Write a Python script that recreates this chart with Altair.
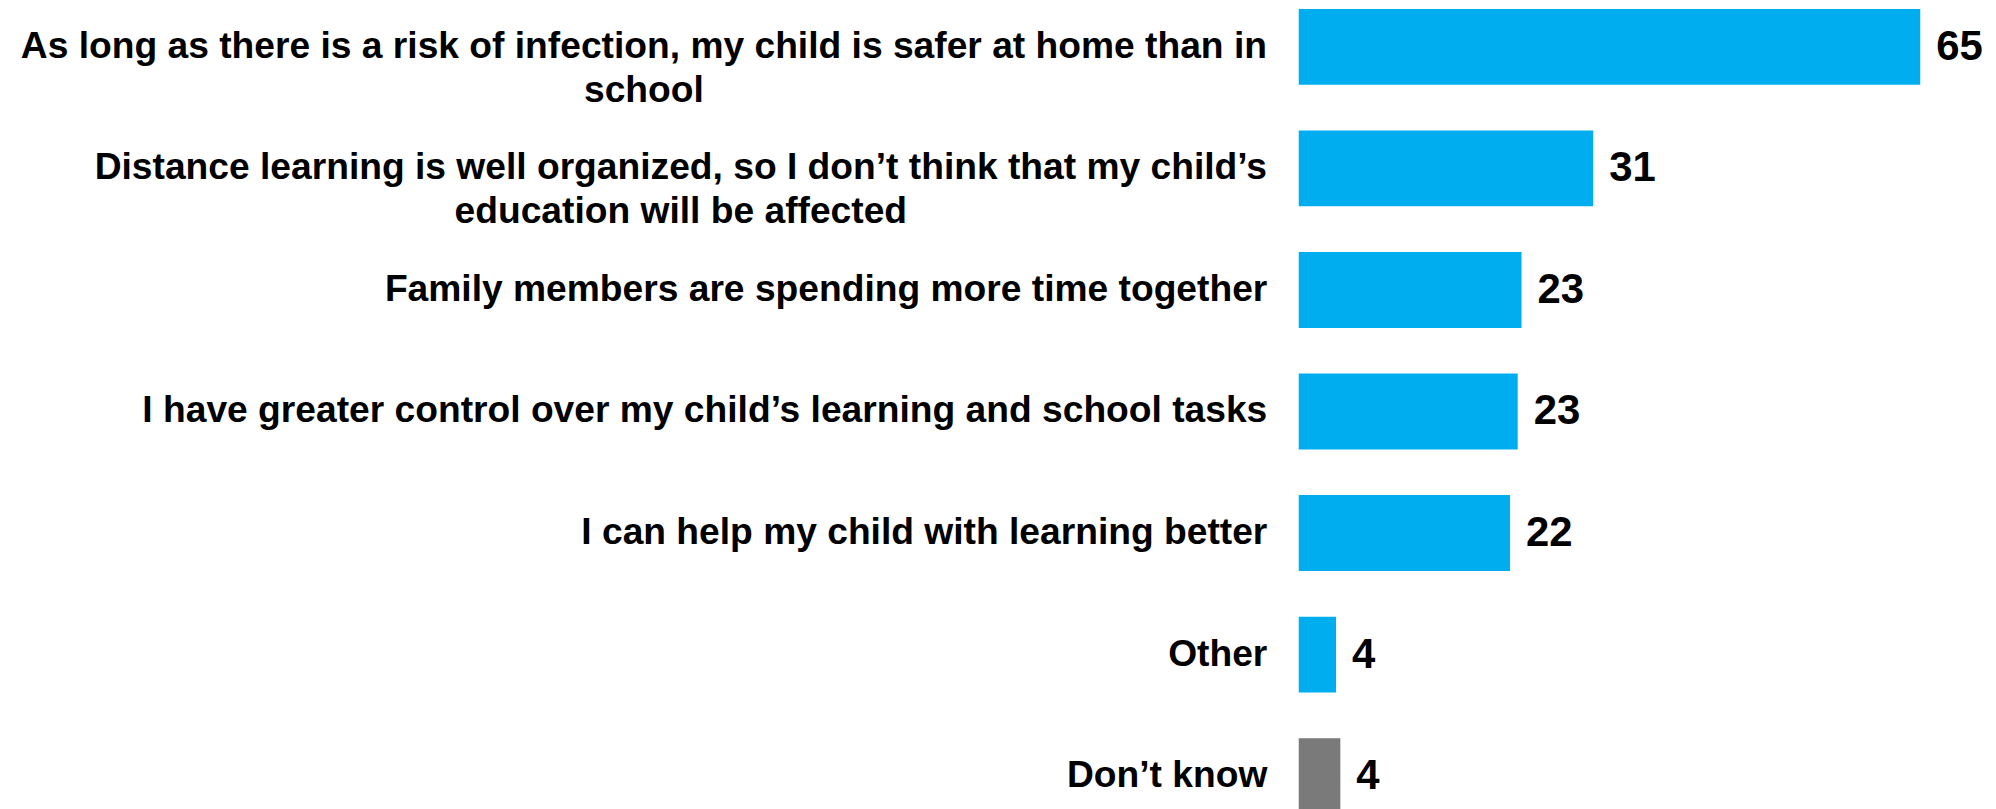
import altair as alt
import pandas as pd

categories = [
    ["As long as there is a risk of infection, my child is safer at home than in", "school"],
    ["Distance learning is well organized, so I don\u2019t think that my child\u2019s", "education will be affected"],
    ["Family members are spending more time together"],
    ["I have greater control over my child\u2019s learning and school tasks"],
    ["I can help my child with learning better"],
    ["Other"],
    ["Don\u2019t know"],
]
values = [65, 30.8, 23.3, 22.9, 22.1, 3.9, 4.35]
value_labels = ["65", "31", "23", "23", "22", "4", "4"]
colors = ["#00AEEF", "#00AEEF", "#00AEEF", "#00AEEF", "#00AEEF", "#00AEEF", "#7A7A7A"]

# approximate rendered width (px) of the first line of each wrapped label,
# used to centre the wrapped lines under each other
wrapped_line_width = {0: 1250, 1: 1176}
LABEL_PAD = 32

keys = [" ".join(c) for c in categories]
df = pd.DataFrame({
    "key": keys,
    "value": values,
    "label": value_labels,
    "color": colors,
})


def q(s):
    return "'" + s.replace("'", "\\'") + "'"


expr = "datum.label"
for i in reversed(range(len(categories))):
    c = categories[i]
    if len(c) > 1:
        arr = "[" + ", ".join(q(s) for s in c) + "]"
        expr = f"datum.label == {q(keys[i])} ? {arr} : ({expr})"

wrapped_test = " || ".join(f"datum.value == {q(keys[i])}" for i in wrapped_line_width)


def build(conditional):
    axis_kwargs = dict(
        title=None,
        ticks=False,
        domain=False,
        labelFont="Liberation Sans",
        labelFontSize=37.3,
        labelFontWeight="bold",
        labelColor="#000000",
        labelPadding=LABEL_PAD,
        labelLimit=1400,
        labelLineHeight=44,
        labelBaseline="middle",
        labelExpr=expr,
    )
    if conditional:
        i0, i1 = list(wrapped_line_width.keys())
        axis_kwargs["labelAlign"] = {
            "condition": {"test": wrapped_test, "value": "center"},
            "value": "right",
        }
        axis_kwargs["labelPadding"] = {
            "condition": [
                {"test": f"datum.value == {q(keys[i0])}", "value": LABEL_PAD + wrapped_line_width[i0] / 2},
                {"test": f"datum.value == {q(keys[i1])}", "value": LABEL_PAD + wrapped_line_width[i1] / 2},
            ],
            "value": LABEL_PAD,
        }
    y_enc = alt.Y(
        "key:N",
        sort=keys,
        scale=alt.Scale(paddingInner=0.376, paddingOuter=0),
        axis=alt.Axis(**axis_kwargs),
    )
    x_enc = alt.X(
        "value:Q",
        scale=alt.Scale(domain=[0, 70], nice=False),
        axis=None,
    )
    bars = alt.Chart(df).mark_bar().encode(
        y=y_enc,
        x=x_enc,
        color=alt.Color("color:N", scale=None),
    )
    texts = alt.Chart(df).mark_text(
        align="left",
        baseline="middle",
        dx=16,
        font="Liberation Sans",
        fontSize=42,
        fontWeight="bold",
        color="#000000",
    ).encode(
        y=alt.Y("key:N", sort=keys),
        x=alt.X("value:Q"),
        text="label:N",
    )
    ch = alt.layer(bars, texts).properties(
        width=671,
        height=807,
        autosize=alt.AutoSizeParams(type="none"),
        padding={"left": 1294, "top": 0, "right": 20, "bottom": 0},
    ).configure_view(stroke=None)
    ch.to_dict()
    return ch


try:
    chart = build(True)
except Exception:
    chart = build(False)

chart.save("out.html", embed_options={"renderer": "svg", "actions": False})
